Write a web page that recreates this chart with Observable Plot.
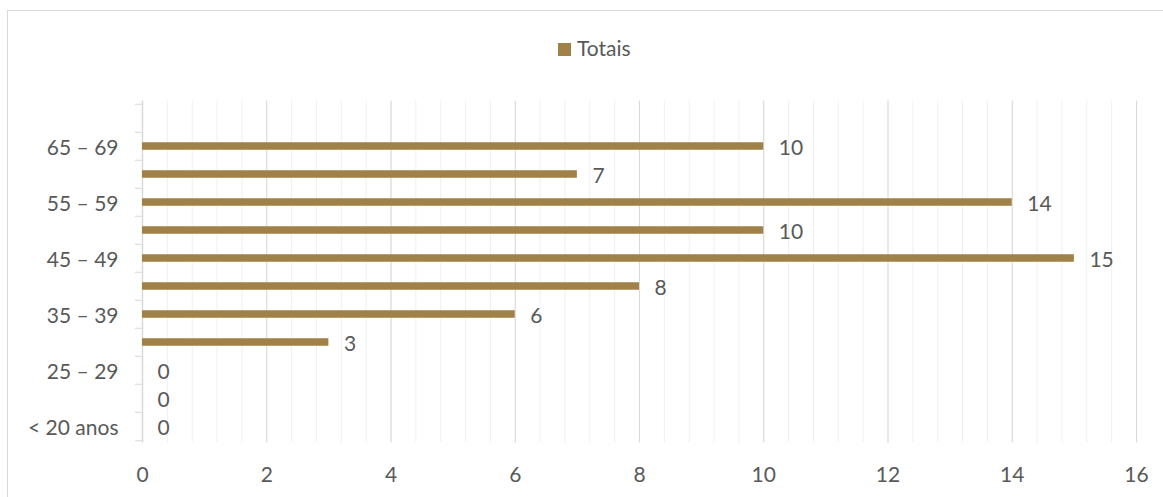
<!DOCTYPE html>
<html>
<head>
<meta charset="utf-8">
<script src="https://cdn.jsdelivr.net/npm/d3@7"></script>
<script src="https://cdn.jsdelivr.net/npm/@observablehq/plot@0.6"></script>
<style>
  body { margin: 0; background: #fff; }
  #wrap { position: relative; width: 1163px; height: 497px; overflow: hidden; background: #fff; font-family: Lato, "Open Sans", sans-serif; }
  #frame { position: absolute; left: 7px; top: 10px; width: 1300px; height: 600px; border-left: 1.5px solid #D9D9D9; border-top: 1.5px solid #D9D9D9; box-sizing: border-box; }
  #legend { position: relative; height: 70px; }
  #legend .sw { position: absolute; left: 558px; top: 43px; width: 13px; height: 13px; background: #A08249; }
  #legend .lb { position: absolute; left: 577px; top: 36px; font-size: 21px; line-height: 24px; color: #595959; }
  #chart { position: relative; }
</style>
</head>
<body>
<div id="wrap">
  <div id="frame"></div>
  <div id="legend"><span class="sw"></span><span class="lb">Totais</span></div>
  <div id="chart"></div>
</div>
<script>
const categories = ["< 20 anos", "20 – 24", "25 – 29", "30 – 34", "35 – 39", "40 – 44", "45 – 49", "50 – 54", "55 – 59", "60 – 64", "65 – 69", "70 +"];
const totals = [0, 0, 0, 3, 6, 8, 15, 10, 14, 7, 10, null];
const xTicks = [0, 2, 4, 6, 8, 10, 12, 14, 16];
const minorTicks = d3.range(0, 41).map(i => i * 0.4);
const seriesName = "Totais";

const data = categories.map((c, i) => ({category: c, value: totals[i]}));
const labelled = data.filter(d => d.value != null);

const W = 1163, H = 427, mT = 30.7, mB = 54.7, mL = 142, mR = 27;
const bw = (H - mT - mB) / categories.length;
const barH = 8;
const inset = (bw - barH) / 2;
const grid = "#D9D9D9";
const text = "#595959";
const barColor = "#A08249";

const chart = Plot.plot({
  width: W,
  height: H,
  marginTop: mT,
  marginBottom: mB,
  marginLeft: mL,
  marginRight: mR,
  style: {fontFamily: "Lato, 'Open Sans', sans-serif", fontSize: "21px", color: text, background: "transparent", overflow: "visible"},
  x: {domain: [0, 16], label: null},
  y: {domain: categories.slice().reverse(), padding: 0, label: null},
  marks: [
    Plot.ruleX(minorTicks, {stroke: "#F0F0F0", strokeWidth: 1}),
    Plot.ruleX(xTicks, {stroke: grid, strokeWidth: 1}),
    Plot.ruleY(categories, {y: d => d, x1: () => 0, x2: () => 0, insetLeft: -7, dy: -bw / 2, stroke: grid}),
    Plot.ruleY([categories[0]], {y: d => d, x1: () => 0, x2: () => 0, insetLeft: -7, dy: bw / 2, stroke: grid}),
    Plot.ruleX([0], {stroke: grid, strokeWidth: 1.5}),
    Plot.barX(data.filter(d => d.value != null && d.value > 0), {x: "value", y: "category", fill: barColor, insetTop: inset, insetBottom: inset}),
    Plot.text(labelled, {x: "value", y: "category", text: d => String(d.value), dx: 15, dy: 1.5, textAnchor: "start", fill: text}),
    Plot.axisY({tickSize: 0, tickPadding: 24, dy: 1.5, label: null, tickFormat: d => categories.indexOf(d) % 2 === 0 ? d : "", fill: text}),
    Plot.axisX(xTicks, {tickSize: 0, tickPadding: 24.5, label: null, tickFormat: d => String(d), fill: text})
  ]
});
document.getElementById("chart").appendChild(chart);
</script>
</body>
</html>
